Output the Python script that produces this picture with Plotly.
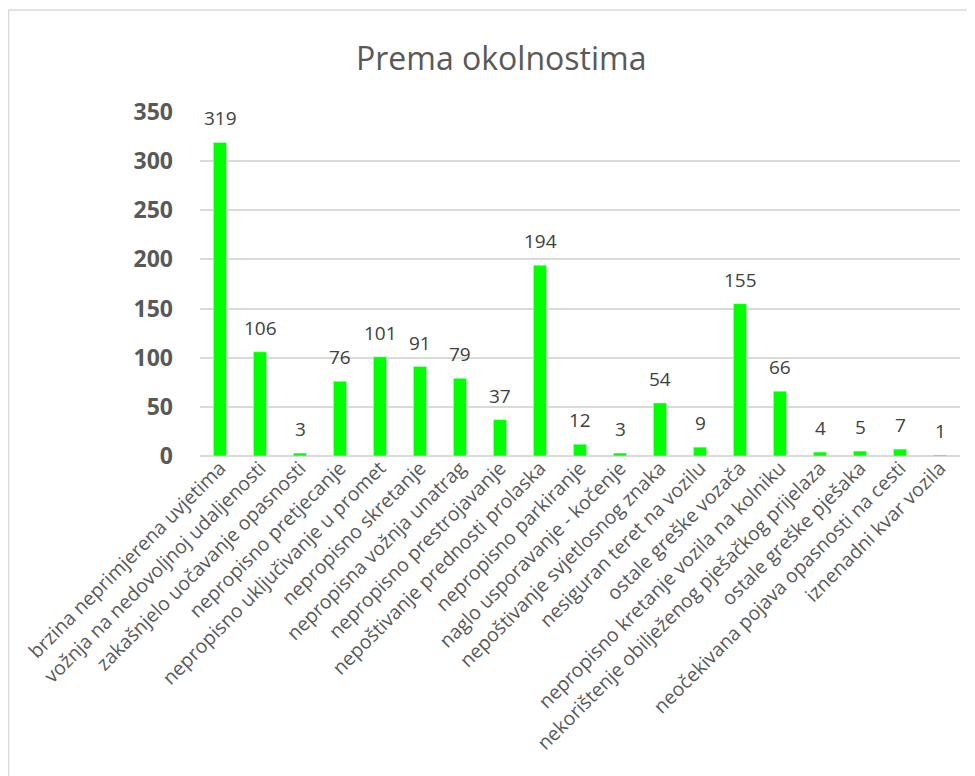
import plotly.graph_objects as go

categories = [
    "brzina neprimjerena uvjetima",
    "vožnja na nedovoljnoj udaljenosti",
    "zakašnjelo uočavanje opasnosti",
    "nepropisno pretjecanje",
    "nepropisno uključivanje u promet",
    "nepropisno skretanje",
    "nepropisna vožnja unatrag",
    "nepropisno prestrojavanje",
    "nepoštivanje prednosti prolaska",
    "nepropisno parkiranje",
    "naglo usporavanje - kočenje",
    "nepoštivanje svjetlosnog znaka",
    "nesiguran teret na vozilu",
    "ostale greške vozača",
    "nepropisno kretanje vozila na kolniku",
    "nekorištenje obilježenog pješačkog prijelaza",
    "ostale greške pješaka",
    "neočekivana pojava opasnosti na cesti",
    "iznenadni kvar vozila",
]
values = [319, 106, 3, 76, 101, 91, 79, 37, 194, 12, 3, 54, 9, 155, 66, 4, 5, 7, 1]
y_ticks = [0, 50, 100, 150, 200, 250, 300, 350]

W, H = 975, 776
# page body has an 8px margin; positions below are figure coordinates
L, R, T, B = 192, 23, 104, 328
pw = W - L - R
ph = H - T - B

def px(x):
    return (x - L) / pw

def py(y):
    return (H - B - y) / ph

fig = go.Figure(go.Bar(
    x=categories,
    y=values,
    marker_color="#00ff00",
    hoverinfo="x+y",
))

for c, v in zip(categories, values):
    fig.add_annotation(
        x=c, y=v, text=str(v), showarrow=False,
        xanchor="center", yanchor="middle", yshift=24,
        font=dict(family="Open Sans", size=19, color="#404040"),
    )

fig.update_layout(
    width=W, height=H,
    margin=dict(l=L, r=R, t=T, b=B),
    paper_bgcolor="white",
    plot_bgcolor="white",
    bargap=0.67,
    showlegend=False,
    font=dict(family="Open Sans", color="#595959"),
)
fig.update_yaxes(
    range=[0, 350], tickvals=y_ticks,
    showgrid=True, gridcolor="#d9d9d9", gridwidth=1.5,
    zeroline=True, zerolinecolor="#d9d9d9", zerolinewidth=1.5,
    tickfont=dict(family="Open Sans", size=23, color="#595959", weight="bold"),
    ticks="", ticklabelstandoff=26, automargin=False,
)
fig.update_xaxes(
    tickangle=-45,
    tickfont=dict(family="Open Sans", size=19.5, color="#595959"),
    showline=False, ticks="", automargin=False,
    ticklabelstandoff=-4, ticklabelshift=0,
)
fig.add_annotation(
    text="Prema okolnostima", xref="paper", yref="paper",
    x=px(493), y=py(50), showarrow=False,
    font=dict(family="Open Sans", size=32, color="#595959"),
    xanchor="center", yanchor="middle",
)
fig.add_shape(
    type="rect", xref="paper", yref="paper",
    x0=px(0.5), y0=py(800), x1=px(1000), y1=py(2),
    line=dict(color="#d9d9d9", width=1.5), fillcolor="rgba(0,0,0,0)",
    layer="below",
)
fig.write_html("out.html")
